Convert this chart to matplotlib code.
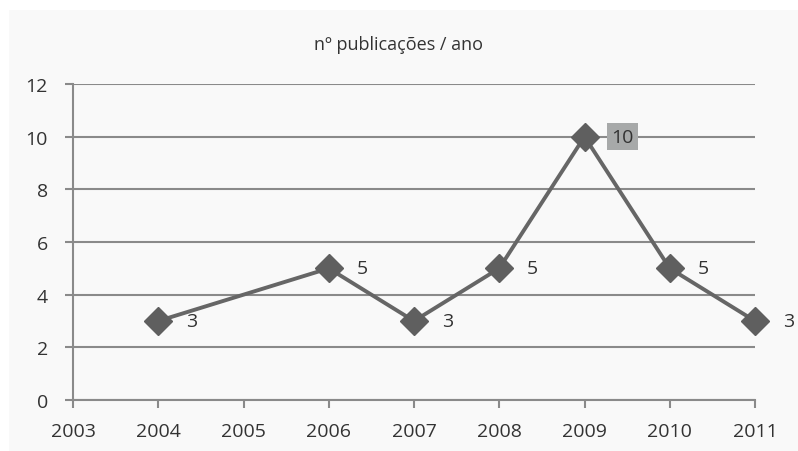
import matplotlib.pyplot as plt
from matplotlib.patches import Rectangle

years = [2004, 2006, 2007, 2008, 2009, 2010, 2011]
pubs = [3, 5, 3, 5, 10, 5, 3]
xticks = list(range(2003, 2012))

plt.rcParams['font.family'] = ['Open Sans', 'DejaVu Sans']

fig = plt.figure(figsize=(7.98, 4.52), dpi=100)
fig.patches.append(Rectangle((9 / 798, 0), 789 / 798, 441 / 452, transform=fig.transFigure,
                             facecolor='#f9f9f9', edgecolor='none', zorder=-10))

ax = fig.add_axes([73 / 798, 51 / 452, 682 / 798, 316 / 452])
ax.set_facecolor('none')

ax.plot(years, pubs, color='#666666', lw=2.8, marker='D', ms=14, mfc='#5f5f5f', mec='#5f5f5f',
        zorder=3, clip_on=False)

for x, y in zip(years, pubs):
    if y == 10:
        ax.annotate(str(y), (x, y), xytext=(19, 0), textcoords='offset points', va='center', ha='left',
                    fontsize=14, color='#333333',
                    bbox=dict(boxstyle='square,pad=0.22', fc='#a7a9a9', ec='none'))
    else:
        ax.annotate(str(y), (x, y), xytext=(20, 0), textcoords='offset points', va='center', ha='left',
                    fontsize=14, color='#333333')

ax.set_xlim(2003, 2011)
ax.set_ylim(0, 12)
ax.set_xticks(xticks)
ax.set_yticks(range(0, 13, 2))
ax.grid(axis='y', color='#8a8a8a', lw=1.5)
ax.set_axisbelow(True)

for s in ['top', 'right']:
    ax.spines[s].set_visible(False)
ax.spines['left'].set_color('#8a8a8a')
ax.spines['bottom'].set_color('#8a8a8a')
ax.spines['left'].set_linewidth(1.5)
ax.spines['bottom'].set_linewidth(1.5)
ax.tick_params(axis='both', colors='#8a8a8a', width=1.5, length=6, labelsize=14, labelcolor='#333333')
ax.tick_params(axis='x', pad=10)
ax.tick_params(axis='y', pad=12)

fig.text(0.5, 0.9, 'nº publicações / ano', ha='center', va='center', fontsize=13, color='#333333')

fig.savefig('out.png', dpi=100)
